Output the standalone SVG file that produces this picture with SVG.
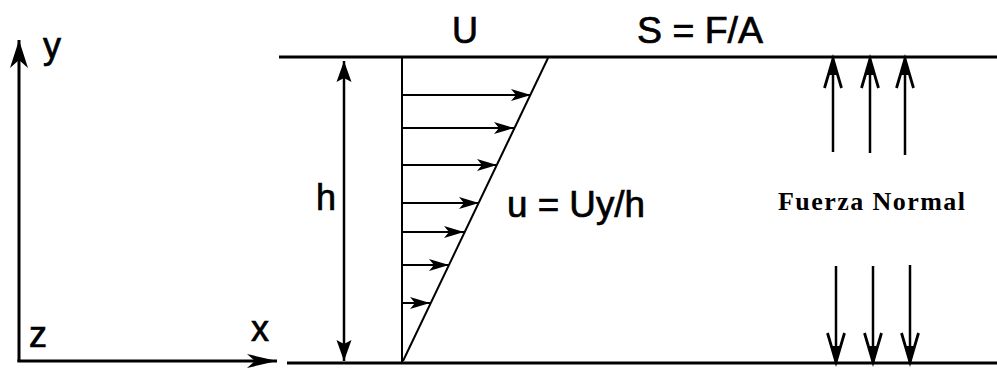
<svg xmlns="http://www.w3.org/2000/svg" width="997" height="368" viewBox="0 0 997 368">
<style>
.ln{stroke:#000;fill:none;stroke-linecap:butt}
.lbl{font-family:"Liberation Sans",Arial,sans-serif;font-size:36px;fill:#000;stroke:#000;stroke-width:0.7}
.srf{font-family:"Liberation Serif","Times New Roman",serif;font-size:26px;font-weight:bold;fill:#000}
</style>
<defs>
<marker id="axisY" markerUnits="userSpaceOnUse" orient="auto" refX="0" refY="0" markerWidth="40" markerHeight="20" overflow="visible">
<path d="M0,0 L-28,-9 L-20,0 L-28,9 Z" fill="#000"/>
</marker>
<marker id="axisX" markerUnits="userSpaceOnUse" orient="auto" refX="0" refY="0" markerWidth="40" markerHeight="20" overflow="visible">
<path d="M0,0 L-30,-7 L-22,0 L-30,7 Z" fill="#000"/>
</marker>
<marker id="tri" markerUnits="userSpaceOnUse" orient="auto" refX="0" refY="0" markerWidth="40" markerHeight="20" overflow="visible">
<path d="M0,0 L-21,-7.5 L-17,0 L-21,7.5 Z" fill="#000"/>
</marker>
<marker id="small" markerUnits="userSpaceOnUse" orient="auto" refX="0" refY="0" markerWidth="40" markerHeight="20" overflow="visible">
<path d="M0,0 L-20,-6 L-15,0 L-20,6 Z" fill="#000"/>
</marker>
<marker id="vee" markerUnits="userSpaceOnUse" orient="auto" refX="0" refY="0" markerWidth="40" markerHeight="20" overflow="visible">
<path d="M-29,-8.5 L0,0 L-29,8.5" fill="none" stroke="#000" stroke-width="2.8"/>
<path d="M0,0 L-16,-5 L-16,5 Z" fill="#000"/>
</marker>
</defs>

<g id="axes">
<line class="ln" x1="19" y1="362" x2="19" y2="40" stroke-width="3" marker-end="url(#axisY)"/>
<line class="ln" x1="17.5" y1="361" x2="277" y2="361" stroke-width="3" marker-end="url(#axisX)"/>
<text class="lbl" x="43" y="58">y</text>
<text class="lbl" x="29" y="347">z</text>
<text class="lbl" x="251" y="341">x</text>
</g>

<g id="plates">
<line class="ln" x1="279" y1="57" x2="997" y2="57" stroke-width="3"/>
<line class="ln" x1="287" y1="363" x2="997" y2="363" stroke-width="3"/>
</g>

<g id="height">
<line class="ln" x1="344" y1="210" x2="344" y2="61" stroke-width="2.5" marker-end="url(#tri)"/>
<line class="ln" x1="344" y1="210" x2="344" y2="361" stroke-width="2.5" marker-end="url(#tri)"/>
<text class="lbl" x="316" y="210">h</text>
</g>

<g id="profile">
<line class="ln" x1="402" y1="58" x2="402" y2="362" stroke-width="2"/>
<line class="ln" x1="403" y1="361" x2="548" y2="58" stroke-width="2"/>
<line class="ln" x1="402" y1="95" x2="531" y2="95" stroke-width="2" marker-end="url(#small)"/>
<line class="ln" x1="402" y1="128" x2="514" y2="128" stroke-width="2" marker-end="url(#small)"/>
<line class="ln" x1="402" y1="165" x2="497" y2="165" stroke-width="2" marker-end="url(#small)"/>
<line class="ln" x1="402" y1="203" x2="479" y2="203" stroke-width="2" marker-end="url(#small)"/>
<line class="ln" x1="402" y1="232" x2="464" y2="232" stroke-width="2" marker-end="url(#small)"/>
<line class="ln" x1="402" y1="265" x2="449" y2="265" stroke-width="2" marker-end="url(#small)"/>
<line class="ln" x1="402" y1="303" x2="430" y2="303" stroke-width="2" marker-end="url(#small)"/>
<text class="lbl" x="465" y="43" text-anchor="middle">U</text>
<text class="lbl" x="507" y="217" textLength="138" lengthAdjust="spacingAndGlyphs">u = Uy/h</text>
</g>

<g id="shear">
<text class="lbl" x="637" y="43" textLength="126" lengthAdjust="spacingAndGlyphs">S = F/A</text>
</g>

<g id="normal-force">
<line class="ln" x1="833" y1="152" x2="833" y2="59" stroke-width="2.5" marker-end="url(#vee)"/>
<line class="ln" x1="870" y1="153" x2="870" y2="59" stroke-width="2.5" marker-end="url(#vee)"/>
<line class="ln" x1="905" y1="155" x2="905" y2="59" stroke-width="2.5" marker-end="url(#vee)"/>
<line class="ln" x1="836" y1="266" x2="836" y2="362" stroke-width="2.5" marker-end="url(#vee)"/>
<line class="ln" x1="873" y1="266" x2="873" y2="362" stroke-width="2.5" marker-end="url(#vee)"/>
<line class="ln" x1="910" y1="265" x2="910" y2="362" stroke-width="2.5" marker-end="url(#vee)"/>
<text class="srf" x="778" y="210" textLength="187" lengthAdjust="spacing">Fuerza Normal</text>
</g>
</svg>
